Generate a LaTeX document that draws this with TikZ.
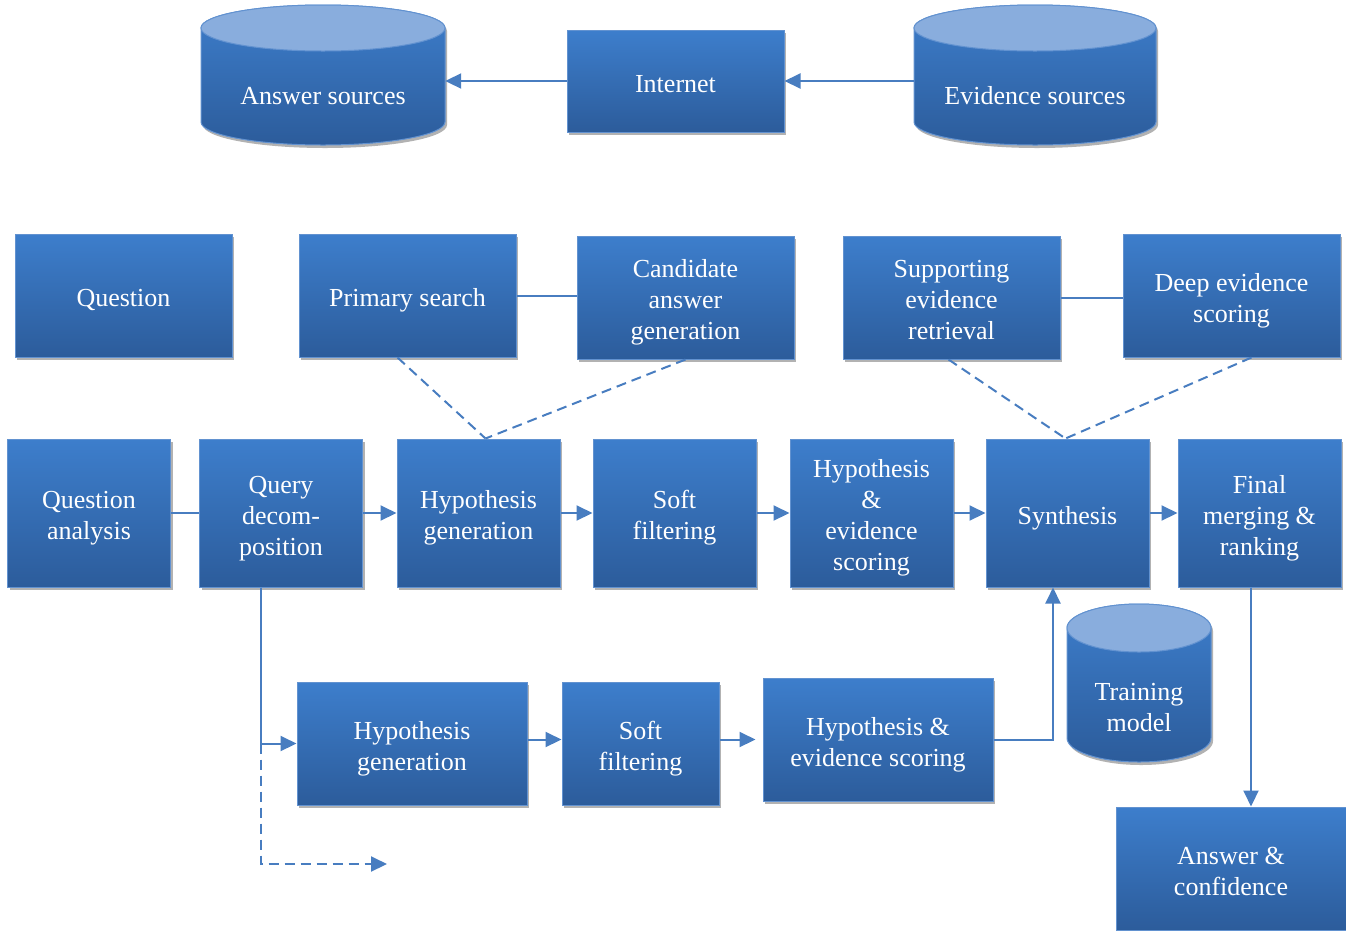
\documentclass[tikz,border=0pt]{standalone}
\usepackage{fontspec}
\setmainfont{Liberation Serif}
\usetikzlibrary{arrows.meta,shadows,calc}
\definecolor{boxtop}{RGB}{61,126,204}
\definecolor{boxbot}{RGB}{44,92,155}
\definecolor{boxline}{RGB}{98,146,208}
\definecolor{cyltop}{RGB}{137,173,221}
\definecolor{linec}{RGB}{72,125,192}
\newcommand\tstrut{\rule{0pt}{28pt}}
\newcommand\bstrut{\rule[-6pt]{0pt}{6pt}}
\tikzset{
  boxfill/.style={top color=boxtop, bottom color=boxbot, draw=boxline, line width=1pt,
    drop shadow={shadow xshift=2pt, shadow yshift=-3pt, opacity=0.3, fill=black}},
  procbox/.style={boxfill, rectangle, text=white, align=center, inner sep=2pt,
    font=\fontsize{26}{31}\selectfont},
  cyltext/.style={text=white, align=center, inner sep=0pt, font=\fontsize{26}{31}\selectfont},
  conn/.style={draw=linec, line width=2pt},
  tip/.style={-{Triangle[length=16pt,width=15pt]}},
  arr/.style={conn, tip},
  dsh/.style={conn, dash pattern=on 10pt off 6pt}
}
\newcommand\dbcyl[5]{% cx, rx, top centre y, bottom centre y, ry
  \path[boxfill] (#1-#2,#3) -- (#1-#2,#4) arc[start angle=180,end angle=360,x radius=#2pt,y radius=#5pt]
     -- (#1+#2,#3) arc[start angle=0,end angle=180,x radius=#2pt,y radius=#5pt] -- cycle;
  \path[fill=cyltop, draw=boxline, line width=1pt] (#1,#3) ellipse[x radius=#2pt, y radius=#5pt];
}
\begin{document}
\begin{tikzpicture}[x=1pt,y=-1pt]
\useasboundingbox (0,0) rectangle (1346,930);

% top row
\dbcyl{323}{122}{28}{122}{23}
\node[cyltext, minimum width=244pt] (ans) at (323,96) {Answer sources};
\dbcyl{1035}{121}{28}{122}{23}
\node[cyltext, minimum width=242pt] (evs) at (1035,96) {Evidence sources};
\node[procbox, minimum width=217pt, minimum height=102pt] (inet) at (675.5,81) {\tstrut Internet\bstrut};

% second row
\node[procbox, minimum width=217pt, minimum height=123pt] (q) at (123.5,295.5) {\tstrut Question\bstrut};
\node[procbox, minimum width=217pt, minimum height=123pt] (ps) at (407.5,295.5) {\tstrut Primary search\bstrut};
\node[procbox, minimum width=217pt, minimum height=123pt] (cag) at (685.5,297.5) {\tstrut Candidate\\answer\\generation\bstrut};
\node[procbox, minimum width=217pt, minimum height=123pt] (ser) at (951.5,297.5) {\tstrut Supporting\\evidence\\retrieval\bstrut};
\node[procbox, minimum width=217pt, minimum height=123pt] (des) at (1231.5,295.5) {\tstrut Deep evidence\\scoring\bstrut};

% third row
\node[procbox, minimum width=163pt, minimum height=148pt] (qa) at (89,513) {\tstrut Question\\analysis\bstrut};
\node[procbox, minimum width=163pt, minimum height=148pt] (qd) at (281,513) {\tstrut Query\\decom-\\position\bstrut};
\node[procbox, minimum width=163pt, minimum height=148pt] (hg) at (478.5,513) {\tstrut Hypothesis\\generation\bstrut};
\node[procbox, minimum width=163pt, minimum height=148pt] (sf) at (674.5,513) {\tstrut Soft\\filtering\bstrut};
\node[procbox, minimum width=163pt, minimum height=148pt] (hes) at (871.5,513) {\tstrut Hypothesis\\\&\\evidence\\scoring\bstrut};
\node[procbox, minimum width=163pt, minimum height=148pt] (syn) at (1067.5,513) {\tstrut Synthesis\bstrut};
\node[procbox, minimum width=163pt, minimum height=148pt] (fm) at (1259.5,513) {\tstrut Final\\merging \&\\ranking\bstrut};

% fourth row
\node[procbox, minimum width=230pt, minimum height=123pt] (hg2) at (412,743.5) {\tstrut Hypothesis\\generation\bstrut};
\node[procbox, minimum width=157pt, minimum height=123pt] (sf2) at (640.5,743.5) {\tstrut Soft\\filtering\bstrut};
\node[procbox, minimum width=230pt, minimum height=123pt] (hes2) at (878,739.5) {\tstrut Hypothesis \&\\evidence scoring\bstrut};
\dbcyl{1139}{72}{628}{738}{24}
\node[cyltext, minimum width=144pt] (tm) at (1139,708) {Training\\model};
\node[procbox, minimum width=230pt, minimum height=123pt] (ac) at (1231,868.5) {\tstrut Answer \&\\confidence\bstrut};

% connectors
\draw[arr] (inet.west) -- (inet.west -| ans.east);
\draw[arr] (inet.east -| evs.west) -- (inet.east);
\draw[conn] (ps.east) -- (ps.east -| cag.west);
\draw[conn] (ser.east) -- (ser.east -| des.west);

\draw[dsh] ([xshift=-10pt]ps.south) -- ([xshift=7pt]hg.north);
\draw[dsh] (cag.south) -- ([xshift=7pt]hg.north);
\draw[dsh] ([xshift=-3pt]ser.south) -- ([xshift=-2pt]syn.north);
\draw[dsh] ([xshift=20pt]des.south) -- ([xshift=-2pt]syn.north);

\draw[conn] (qa.east) -- (qd.west);
\draw[arr] (qd.east) -- (hg.west);
\draw[arr] (hg.east) -- (sf.west);
\draw[arr] (sf.east) -- (hes.west);
\draw[arr] (hes.east) -- (syn.west);
\draw[arr] (syn.east) -- (fm.west);

\coordinate (dend) at (387,864);
\draw[arr] ([xshift=-20pt]qd.south) |- (hg2.west);
\draw[dsh, tip] ([xshift=-20pt]qd.south |- hg2.west) |- (dend);
\draw[arr] (hg2.east |- hes2.west) -- (sf2.west |- hes2.west);
\draw[arr] (sf2.east |- hes2.west) -- ([xshift=-7pt]hes2.west);
\draw[arr] (hes2.east) -| ([xshift=-14.5pt]syn.south);
\draw[arr] ([xshift=-8.5pt]fm.south) -- ([xshift=-8.5pt]fm.south |- ac.north);
\end{tikzpicture}
\end{document}
